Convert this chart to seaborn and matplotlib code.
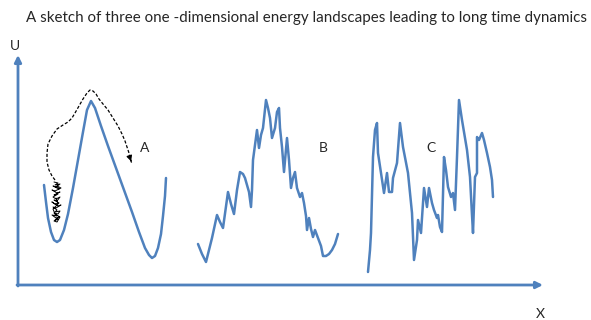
import matplotlib.pyplot as plt
import seaborn as sns

# --- Data (pixel-like coordinates, y grows downward) ---
a_x = [44, 46, 48, 51, 54, 57, 60, 64, 68, 73, 78, 83, 87, 91, 95, 101, 108, 116, 124, 132, 139, 145, 149, 152, 155, 158, 161, 163, 165, 166]
a_y = [185, 202, 218, 232, 240, 242, 240, 230, 214, 188, 160, 132, 110, 101, 108, 126, 146, 168, 190, 212, 232, 248, 255, 258, 256, 248, 234, 216, 196, 178]

b_x = [198, 202, 206, 209, 212, 217, 220, 223, 228, 231, 234, 237, 240, 243, 245, 247, 249, 251, 252, 253, 255, 257, 259, 261, 263, 266, 268, 270, 272, 275, 277, 279, 280, 282, 284, 287, 289, 291, 293, 295, 297, 300, 302, 304, 306, 307, 309, 311, 313, 315, 318, 321, 323, 326, 329, 332, 335, 338]
b_y = [244, 254, 262, 250, 238, 215, 222, 228, 192, 204, 214, 190, 172, 174, 178, 185, 192, 207, 190, 160, 145, 130, 148, 135, 128, 100, 108, 118, 138, 128, 112, 108, 128, 147, 172, 138, 160, 188, 178, 172, 188, 197, 193, 203, 216, 230, 218, 229, 237, 230, 238, 246, 256, 256, 254, 250, 244, 234]

c_x = [368, 370, 371, 373, 375, 377, 378, 381, 384, 387, 389, 392, 393, 397, 400, 403, 408, 412, 414, 417, 418, 421, 424, 427, 429, 432, 434, 437, 438, 440, 442, 444, 446, 448, 451, 453, 455, 457, 459, 462, 464, 467, 470, 472, 473, 475, 477, 477, 479, 482, 484, 487, 490, 492, 493]
c_y = [272, 250, 233, 157, 130, 123, 153, 173, 193, 173, 192, 192, 178, 163, 123, 147, 173, 213, 260, 240, 220, 233, 188, 207, 188, 203, 210, 218, 215, 227, 232, 157, 170, 187, 197, 193, 210, 157, 100, 120, 132, 150, 177, 215, 233, 177, 173, 137, 140, 133, 140, 153, 167, 180, 197]

path_x = [55, 52, 49, 47, 47, 48, 52, 57, 63, 68, 72, 75, 79, 83, 87, 90, 93, 96, 99, 103, 108, 113, 118, 122, 125, 127, 129, 130, 131, 132]
path_y = [180, 176, 170, 162, 153, 144, 136, 129, 125, 122, 118, 113, 106, 99, 93, 90, 91, 94, 99, 104, 110, 118, 126, 134, 141, 147, 153, 158, 161, 164]

# scribble of the particle rattling in the well
jig_x = [54, 58, 55, 60, 56, 53, 59, 57, 61, 55, 52, 57, 60, 54, 58, 53, 56, 60, 57, 54, 59, 55, 52, 58, 61, 56, 53, 57, 55, 60,
         58, 54, 57, 52, 56, 59, 55, 58, 54, 57, 60, 55, 53, 58, 56]
jig_y = [182, 183, 185, 184, 187, 186, 189, 186, 188, 191, 190, 193, 192, 195, 194, 197, 199, 197, 201, 200, 203, 204, 202, 206, 205, 208, 207, 210, 212, 211,
         214, 213, 216, 215, 218, 217, 220, 219, 221, 222, 217, 214, 209, 204, 198]

labels = ["A", "B", "C"]
label_x = [145, 323, 431]
label_y = [148, 148, 148]

title = "A sketch of three one -dimensional energy landscapes leading to long time dynamics"
BLUE = "#4f81bd"


def main():
    sns.set_theme(style="white")
    plt.rcParams['font.family'] = ['Lato', 'DejaVu Sans']

    fig = plt.figure(figsize=(5.91, 3.20), dpi=100)
    ax = fig.add_axes([0, 0, 1, 1])
    ax.set_xlim(0, 591)
    ax.set_ylim(320, 0)
    ax.axis('off')

    # energy landscapes
    for xs, ys in [(a_x, a_y), (b_x, b_y), (c_x, c_y)]:
        sns.lineplot(x=xs, y=ys, sort=False, estimator=None, color=BLUE,
                     linewidth=1.8, ax=ax)

    # trajectory over the barrier
    sns.lineplot(x=path_x, y=path_y, sort=False, estimator=None, color='black',
                 linewidth=0.9, linestyle=(0, (2.5, 1.5)), ax=ax)
    ax.annotate('', xy=(path_x[-1], path_y[-1]), xytext=(path_x[-3], path_y[-3]),
                arrowprops=dict(arrowstyle='-|>', color='black', lw=0.9,
                                mutation_scale=8))

    # thermal jiggling in the well
    sns.lineplot(x=jig_x, y=jig_y, sort=False, estimator=None, color='black',
                 linewidth=0.7, ax=ax)

    # axes arrows
    ax.annotate('', xy=(18, 55), xytext=(18, 286),
                arrowprops=dict(arrowstyle='-|>', color=BLUE, lw=2.0,
                                mutation_scale=10, shrinkA=0, shrinkB=0))
    ax.annotate('', xy=(543, 285), xytext=(17, 285),
                arrowprops=dict(arrowstyle='-|>', color=BLUE, lw=2.0,
                                mutation_scale=10, shrinkA=0, shrinkB=0))

    ax.text(15, 46, "U", fontsize=10, ha='center', va='center')
    ax.text(540, 314, "X", fontsize=10, ha='center', va='center')
    for lab, lx, ly in zip(labels, label_x, label_y):
        ax.text(lx, ly, lab, fontsize=10, ha='center', va='center')

    ax.text(307, 18, title, fontsize=10.9, ha='center', va='center')

    fig.savefig('out.png', dpi=100)


if __name__ == "__main__":
    main()
